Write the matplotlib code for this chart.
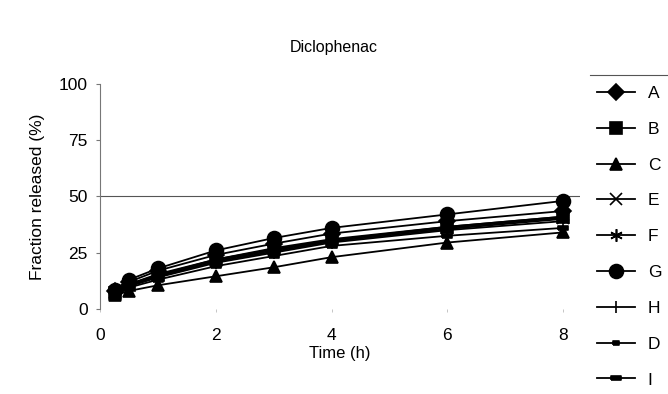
import numpy as np
import matplotlib.pyplot as plt
from matplotlib.lines import Line2D

plt.rcParams['font.family'] = ['Liberation Sans', 'DejaVu Sans']

# sampling times (h)
time_h = [0.25, 0.5, 1, 2, 3, 4, 6, 8]

labels = ['A', 'B', 'C', 'E', 'F', 'G', 'H', 'D', 'I']

# fraction released (%)
rel_A = [8, 12, 17, 24, 29, 33.5, 39, 43.5]
rel_B = [7, 10.5, 15, 22, 27, 31, 36.5, 41]
rel_C = [6, 8, 10.5, 14.5, 18.5, 23, 29.5, 34]
rel_E = [7.5, 11, 15, 21.5, 26, 30.5, 36, 40.5]
rel_F = [7.5, 11, 15.5, 22, 26.5, 30.5, 36.5, 41]
rel_G = [8.5, 13, 18, 26, 31.5, 36, 42, 48]
rel_H = [7, 10, 14, 20.5, 25, 29.5, 35, 39]
rel_D = [7, 10.5, 14.5, 21, 25.5, 30, 35.5, 40]
rel_I = [6.5, 9.5, 13, 19, 23.5, 28, 32.5, 36]

series = [rel_A, rel_B, rel_C, rel_E, rel_F, rel_G, rel_H, rel_D, rel_I]

rect_wide = [(-1, -0.45), (1, -0.45), (1, 0.45), (-1, 0.45), (-1, -0.45)]
rect_small = [(-1, -0.6), (1, -0.6), (1, 0.6), (-1, 0.6), (-1, -0.6)]
markers = ['D', 's', '^', 'x', (6, 2, 0), 'o', '|', rect_small, rect_wide]
msizes = [8, 8.5, 8.5, 8, 9, 10, 9, 5, 7.5]

fig = plt.figure(figsize=(6.68, 3.94), dpi=100)
ax = fig.add_axes([0.150, 0.216, 0.718, 0.571])

handles = []
for vals, lab, mk, ms in zip(series, labels, markers, msizes):
    h, = ax.plot(time_h, vals, color='black', lw=1.3, marker=mk, ms=ms,
                 mec='black', mfc='black', mew=1.2, label=lab)
    handles.append(h)

ax.axhline(50, color='#555555', lw=0.8, zorder=0)

ax.set_xlim(0, 8.29)
ax.set_ylim(0, 100)
ax.set_xticks([0, 2, 4, 6, 8])
ax.set_yticks([0, 25, 50, 75, 100])
for s in ['top', 'right', 'bottom']:
    ax.spines[s].set_visible(False)
ax.spines['left'].set_color('#777777')
ax.spines['left'].set_linewidth(0.8)
ax.tick_params(axis='y', length=3, width=0.8, color='#777777', labelsize=12.5, pad=6)
ax.tick_params(axis='x', length=2, width=0.6, color='#bbbbbb', labelsize=12.5, pad=12)

ax.set_xlabel('Time (h)', fontsize=12, labelpad=2)
ax.set_ylabel('Fraction released (%)', fontsize=12.5, labelpad=10)
fig.text(0.5, 0.88, 'Diclophenac', ha='center', va='center', fontsize=11.5)

fig.legend(handles=handles, loc='upper left', bbox_to_anchor=(0.893, 0.782),
           frameon=False, fontsize=12.5, labelspacing=1.19, handlelength=2.2,
           handletextpad=0.75, borderaxespad=0, borderpad=0)
fig.add_artist(Line2D([0.883, 1.0], [0.81, 0.81], color='#555555', lw=0.8,
                      transform=fig.transFigure))

fig.savefig('out.png', dpi=100)
